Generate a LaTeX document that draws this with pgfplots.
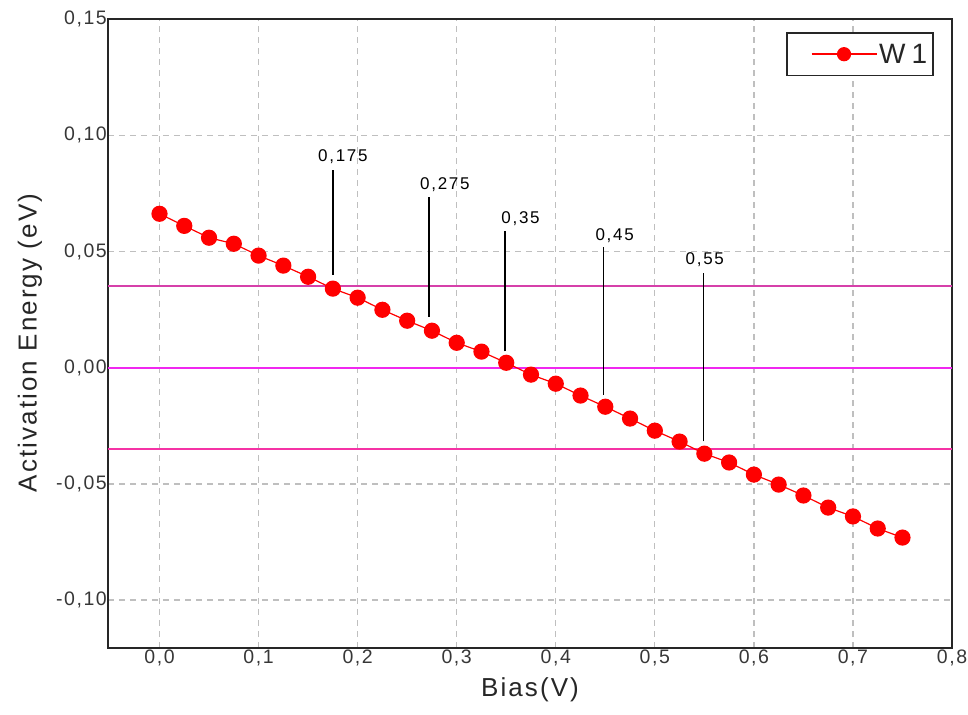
\documentclass[border=0pt]{standalone}
\usepackage{pgfplots}
\pgfplotsset{compat=1.18}
\usepackage{fontspec}
\setmainfont{Liberation Sans}[LetterSpace=8]
\newfontfamily\annfont{Liberation Sans}[LetterSpace=10]
\definecolor{lineA}{RGB}{214,64,170}
\definecolor{lineB}{RGB}{240,40,240}
\definecolor{lineC}{RGB}{245,50,165}
\definecolor{tickgray}{RGB}{55,55,55}
\pgfplotstableread{
x y
0.000 0.0662
0.025 0.0610
0.050 0.0559
0.075 0.0533
0.100 0.0482
0.125 0.0439
0.150 0.0391
0.175 0.0340
0.200 0.0301
0.225 0.0249
0.250 0.0202
0.275 0.0159
0.300 0.0107
0.325 0.0069
0.350 0.0021
0.375 -0.0030
0.400 -0.0069
0.425 -0.0120
0.450 -0.0168
0.475 -0.0219
0.500 -0.0271
0.525 -0.0318
0.550 -0.0370
0.575 -0.0408
0.600 -0.0460
0.625 -0.0503
0.650 -0.0550
0.675 -0.0602
0.700 -0.0640
0.725 -0.0692
0.750 -0.0731
}\wone
\begin{document}
\begin{tikzpicture}
\path[use as bounding box] (-108pt,-66pt) rectangle (860pt,648pt);
\begin{axis}[
  scale only axis, width=844pt, height=629pt,
  xmin=-0.052, xmax=0.8, ymin=-0.1206, ymax=0.15,
  xtick={0,0.1,0.2,0.3,0.4,0.5,0.6,0.7,0.8},
  ytick={-0.1,-0.05,0,0.05,0.1,0.15},
  xtick pos=bottom, ytick pos=left,
  major tick length=0pt,
  xticklabel={\pgfmathprintnumber[fixed,fixed zerofill,precision=1,use comma,assume math mode=true]{\tick}},
  yticklabel={\pgfmathprintnumber[fixed,fixed zerofill,precision=2,use comma,assume math mode=true]{\tick}},
  tick label style={font=\fontsize{19.5pt}{22pt}\selectfont, text=tickgray},
  xticklabel style={inner sep=1pt, yshift=-1pt},
  yticklabel style={inner sep=1pt, xshift=0pt},
  axis line style={draw=black!85, line width=2pt},
  grid=major,
  major grid style={gray!50, dash pattern=on 6pt off 5pt, line width=1.3pt},
  every axis x label/.style={at={(axis description cs:0.5,-0.067)}, anchor=center},
  every axis y label/.style={at={(axis description cs:-0.0924,0.485)}, anchor=center, rotate=90},
  label style={font=\fontsize{26pt}{30pt}\selectfont, text=black!85},
  xlabel={Bias(V)},
  ylabel={Activation Energy (eV)},
  legend style={at={(0.9787,0.9793)}, anchor=north east, draw=black!85, line width=1.6pt,
    font=\fontsize{28pt}{32pt}\selectfont, inner xsep=4pt, inner ysep=9pt, text=black!85},
  legend image code/.code={\path (-20pt,0pt); \draw[draw=red, line width=1.4pt] (0pt,0pt)--(65pt,0pt); \fill[fill=red] (32.5pt,0pt) circle (6.5pt);},
  clip=true,
]
\addplot[lineA, line width=2pt, forget plot] coordinates {(-0.052,0.035) (0.8,0.035)};
\addplot[lineB, line width=2pt, forget plot] coordinates {(-0.052,0) (0.8,0)};
\addplot[lineC, line width=2pt, forget plot] coordinates {(-0.052,-0.035) (0.8,-0.035)};
\addplot[red, line width=1.2pt, mark=*, mark size=7.5pt, mark options={fill=red, draw=red}] table[x=x,y=y] {\wone};
\addlegendentry{W\kern6pt 1}
\addplot[black, line width=1.5pt, forget plot] coordinates {(0.175,0.0400) (0.175,0.0851)};
\addplot[black, line width=1.5pt, forget plot] coordinates {(0.272,0.0220) (0.272,0.0736)};
\addplot[black, line width=1.5pt, forget plot] coordinates {(0.349,0.0070) (0.349,0.0586)};
\addplot[black, line width=1.5pt, forget plot] coordinates {(0.448,-0.0116) (0.448,0.0519)};
\addplot[black, line width=1.5pt, forget plot] coordinates {(0.549,-0.0317) (0.549,0.0407)};
\node[anchor=base west, inner sep=0pt, font=\annfont\fontsize{17pt}{20pt}\selectfont] at (axis cs:0.160,0.0887) {0,175};
\node[anchor=base west, inner sep=0pt, font=\annfont\fontsize{17pt}{20pt}\selectfont] at (axis cs:0.263,0.0768) {0,275};
\node[anchor=base west, inner sep=0pt, font=\annfont\fontsize{17pt}{20pt}\selectfont] at (axis cs:0.345,0.0622) {0,35};
\node[anchor=base west, inner sep=0pt, font=\annfont\fontsize{17pt}{20pt}\selectfont] at (axis cs:0.440,0.0546) {0,45};
\node[anchor=base west, inner sep=0pt, font=\annfont\fontsize{17pt}{20pt}\selectfont] at (axis cs:0.531,0.0443) {0,55};
\end{axis}
\end{tikzpicture}
\end{document}
